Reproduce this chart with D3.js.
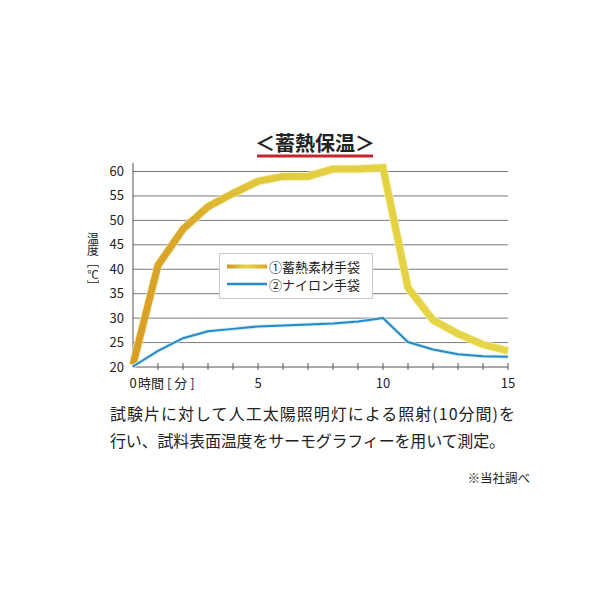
<!DOCTYPE html>
<html><head><meta charset="utf-8">
<script src="https://cdn.jsdelivr.net/npm/d3@7"></script>
<style>
body{margin:0;background:#fff;}
text{font-family:"Noto Sans CJK JP","Noto Sans",sans-serif;fill:#222;}
</style></head>
<body>
<svg id="chart" width="600" height="600"></svg>
<script>
const minutes = [0,1,2,3,4,5,6,7,8,9,10,11,12,13,14,15];
const heatGlove = [20.5,40.8,48.2,52.8,55.5,58.0,59.0,59.0,60.5,60.5,60.8,36.2,29.6,26.8,24.6,23.3];
const nylonGlove = [20.1,23.3,25.9,27.3,27.8,28.3,28.5,28.7,28.9,29.3,30.0,25.1,23.6,22.6,22.2,22.1];
const yTicks = [20,25,30,35,40,45,50,55,60];
const xTicks = [0,5,10,15];
const seriesNames = ["①蓄熱素材手袋","②ナイロン手袋"];
const titleText = "＜蓄熱保温＞";
const yTitleParts = ["温度［","℃","］"];
const xTitle = "時間 [ 分 ]";
const noteLines = ["試験片に対して人工太陽照明灯による照射(10分間)を","行い、試料表面温度をサーモグラフィーを用いて測定。"];
const sourceText = "※当社調べ";

const svg = d3.select("#chart");
const x = d3.scaleLinear().domain([0,15]).range([133,508]);
const y = d3.scaleLinear().domain([20,60]).range([367,171.5]);

const defs = svg.append("defs");
const g1 = defs.append("linearGradient").attr("id","heatGrad")
  .attr("gradientUnits","userSpaceOnUse")
  .attr("x1",x(0)).attr("x2",x(15)).attr("y1",0).attr("y2",0);
[[0,"#d89f24"],[0.13,"#daa82a"],[0.22,"#dfb933"],[0.33,"#e2c63b"],[0.5,"#e4d040"],[1,"#e6d748"]]
  .forEach(([o,c])=>g1.append("stop").attr("offset",o).attr("stop-color",c));
const g2 = defs.append("linearGradient").attr("id","legGrad")
  .attr("gradientUnits","userSpaceOnUse")
  .attr("x1",227).attr("x2",267).attr("y1",0).attr("y2",0);
[[0,"#c99428"],[0.45,"#e7d04a"],[0.6,"#e6cd45"],[1,"#d6a42c"]]
  .forEach(([o,c])=>g2.append("stop").attr("offset",o).attr("stop-color",c));

// gridlines
svg.append("g").selectAll("line").data(yTicks.filter(v=>v>20)).join("line")
  .attr("x1",x(0)).attr("x2",x(15)).attr("y1",d=>y(d)).attr("y2",d=>y(d))
  .attr("stroke","#7a7a7a").attr("stroke-width",1);

// x axis
svg.append("line").attr("x1",x(0)).attr("x2",x(15)).attr("y1",y(20)).attr("y2",y(20))
  .attr("stroke","#555").attr("stroke-width",1);
svg.append("g").selectAll("line").data(minutes.filter(m=>m>0)).join("line")
  .attr("x1",d=>x(d)).attr("x2",d=>x(d)).attr("y1",y(20)-4).attr("y2",y(20)+3)
  .attr("stroke","#555").attr("stroke-width",1);
// y axis
svg.append("line").attr("x1",x(0)).attr("x2",x(0)).attr("y1",163).attr("y2",y(20))
  .attr("stroke","#555").attr("stroke-width",1);

// y tick labels
svg.append("g").selectAll("text").data(yTicks).join("text")
  .attr("x",124).attr("y",d=>y(d)+4.5).attr("text-anchor","end")
  .attr("font-size",13).text(d=>d);
// x tick labels
svg.append("g").selectAll("text").data(xTicks).join("text")
  .attr("x",d=>x(d)).attr("y",388).attr("text-anchor","middle")
  .attr("font-size",13).text(d=>d);
svg.append("text").attr("x",138).attr("y",388).attr("font-size",13).text(xTitle);

// y title (vertical)
svg.append("text").attr("x",93).attr("y",232).attr("font-size",12)
  .style("writing-mode","vertical-rl").style("text-orientation","mixed")
  .text(yTitleParts[0]);
svg.append("text").attr("x",93).attr("y",278.5).attr("font-size",11.5)
  .attr("text-anchor","middle").text(yTitleParts[1]);
svg.append("text").attr("x",93).attr("y",280).attr("font-size",12)
  .style("writing-mode","vertical-rl").style("text-orientation","mixed")
  .text(yTitleParts[2]);

// lines
const line = d3.line().x((d,i)=>x(minutes[i])).y(d=>y(d));
svg.append("path").datum(heatGlove).attr("d",line).attr("fill","none")
  .attr("stroke","#f4eeb4").attr("stroke-width",9).attr("opacity",0.7);
svg.append("path").datum(heatGlove).attr("d",line).attr("fill","none")
  .attr("stroke","url(#heatGrad)").attr("stroke-width",7);
svg.append("path").datum(nylonGlove).attr("d",line).attr("fill","none")
  .attr("stroke","#c6ecf8").attr("stroke-width",4).attr("opacity",0.8);
svg.append("path").datum(nylonGlove).attr("d",line).attr("fill","none")
  .attr("stroke","#2a88c2").attr("stroke-width",2);

// legend
const leg = svg.append("g");
leg.append("rect").attr("x",219.5).attr("y",253.5).attr("width",153).attr("height",45)
  .attr("fill","#fff").attr("stroke","#c8c8c8").attr("stroke-width",1);
leg.append("line").attr("x1",227).attr("x2",267).attr("y1",266.5).attr("y2",266.5)
  .attr("stroke","url(#legGrad)").attr("stroke-width",4);
leg.append("line").attr("x1",227).attr("x2",267).attr("y1",284).attr("y2",284)
  .attr("stroke","#2a88c2").attr("stroke-width",2.5);
leg.selectAll("text.l").data(seriesNames).join("text").attr("class","l")
  .attr("x",269).attr("y",(d,i)=>271.5+i*18.5).attr("font-size",13).text(d=>d);

// title
svg.append("text").attr("x",315).attr("y",151).attr("text-anchor","middle")
  .attr("font-size",20).attr("font-weight","bold").text(titleText);
svg.append("rect").attr("x",257).attr("y",154.5).attr("width",116).attr("height",3)
  .attr("fill","#c4262e");

// notes
const noteLen = [405,395];
svg.append("g").selectAll("text").data(noteLines).join("text")
  .attr("x",110).attr("y",(d,i)=>420+i*27).attr("font-size",16)
  .attr("textLength",(d,i)=>noteLen[i]).attr("lengthAdjust","spacing").text(d=>d);
svg.append("text").attr("x",530).attr("y",483).attr("text-anchor","end")
  .attr("font-size",12.5).text(sourceText);
</script>
</body></html>
